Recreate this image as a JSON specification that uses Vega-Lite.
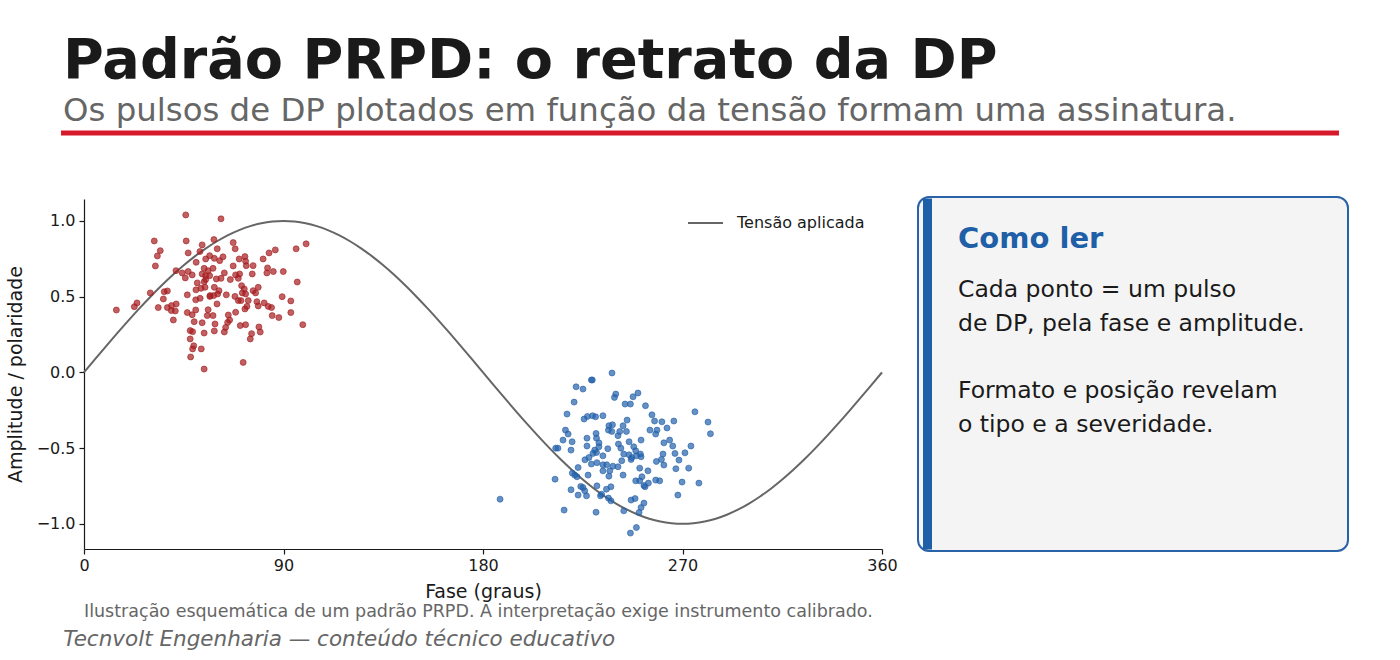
{
  "$schema": "https://vega.github.io/schema/vega-lite/v6.json",
  "padding": {"left": 6, "top": 33, "right": 0, "bottom": 0},
  "background": "white",
  "config": {
    "font": "DejaVu Sans",
    "view": {"stroke": null},
    "axis": {
      "labelFont": "DejaVu Sans", "titleFont": "DejaVu Sans",
      "labelFontSize": 16, "titleFontSize": 19, "titleFontWeight": "normal",
      "labelColor": "#1a1a1a", "titleColor": "#1a1a1a",
      "domainColor": "#1a1a1a", "tickColor": "#1a1a1a", "domainWidth": 1.2, "tickWidth": 1.2,
      "grid": false, "tickSize": 5, "labelPadding": 4
    }
  },
  "resolve": {"scale": {"color": "independent", "fill": "independent", "stroke": "independent"}, "legend": {"color": "independent"}},
  "datasets": {
    "tensao": [
      {"fase": 0, "amp": 0}, {"fase": 5, "amp": 0.0872}, {"fase": 10, "amp": 0.1736}, {"fase": 15, "amp": 0.2588},
      {"fase": 20, "amp": 0.342}, {"fase": 25, "amp": 0.4226}, {"fase": 30, "amp": 0.5}, {"fase": 35, "amp": 0.5736},
      {"fase": 40, "amp": 0.6428}, {"fase": 45, "amp": 0.7071}, {"fase": 50, "amp": 0.766}, {"fase": 55, "amp": 0.8192},
      {"fase": 60, "amp": 0.866}, {"fase": 65, "amp": 0.9063}, {"fase": 70, "amp": 0.9397}, {"fase": 75, "amp": 0.9659},
      {"fase": 80, "amp": 0.9848}, {"fase": 85, "amp": 0.9962}, {"fase": 90, "amp": 1}, {"fase": 95, "amp": 0.9962},
      {"fase": 100, "amp": 0.9848}, {"fase": 105, "amp": 0.9659}, {"fase": 110, "amp": 0.9397}, {"fase": 115, "amp": 0.9063},
      {"fase": 120, "amp": 0.866}, {"fase": 125, "amp": 0.8192}, {"fase": 130, "amp": 0.766}, {"fase": 135, "amp": 0.7071},
      {"fase": 140, "amp": 0.6428}, {"fase": 145, "amp": 0.5736}, {"fase": 150, "amp": 0.5}, {"fase": 155, "amp": 0.4226},
      {"fase": 160, "amp": 0.342}, {"fase": 165, "amp": 0.2588}, {"fase": 170, "amp": 0.1736}, {"fase": 175, "amp": 0.0872},
      {"fase": 180, "amp": 0}, {"fase": 185, "amp": -0.0872}, {"fase": 190, "amp": -0.1736}, {"fase": 195, "amp": -0.2588},
      {"fase": 200, "amp": -0.342}, {"fase": 205, "amp": -0.4226}, {"fase": 210, "amp": -0.5}, {"fase": 215, "amp": -0.5736},
      {"fase": 220, "amp": -0.6428}, {"fase": 225, "amp": -0.7071}, {"fase": 230, "amp": -0.766}, {"fase": 235, "amp": -0.8192},
      {"fase": 240, "amp": -0.866}, {"fase": 245, "amp": -0.9063}, {"fase": 250, "amp": -0.9397}, {"fase": 255, "amp": -0.9659},
      {"fase": 260, "amp": -0.9848}, {"fase": 265, "amp": -0.9962}, {"fase": 270, "amp": -1}, {"fase": 275, "amp": -0.9962},
      {"fase": 280, "amp": -0.9848}, {"fase": 285, "amp": -0.9659}, {"fase": 290, "amp": -0.9397}, {"fase": 295, "amp": -0.9063},
      {"fase": 300, "amp": -0.866}, {"fase": 305, "amp": -0.8192}, {"fase": 310, "amp": -0.766}, {"fase": 315, "amp": -0.7071},
      {"fase": 320, "amp": -0.6428}, {"fase": 325, "amp": -0.5736}, {"fase": 330, "amp": -0.5}, {"fase": 335, "amp": -0.4226},
      {"fase": 340, "amp": -0.342}, {"fase": 345, "amp": -0.2588}, {"fase": 350, "amp": -0.1736}, {"fase": 355, "amp": -0.0872},
      {"fase": 360, "amp": 0}
    ],
    "pulsos": [
      {"fase": 45.9, "amp": 1.04, "pol": "pos"}, {"fase": 31.7, "amp": 0.868, "pol": "pos"}, {"fase": 46.1, "amp": 0.868, "pol": "pos"},
      {"fase": 34.4, "amp": 0.804, "pol": "pos"}, {"fase": 33.1, "amp": 0.769, "pol": "pos"}, {"fase": 47.0, "amp": 0.789, "pol": "pos"},
      {"fase": 53.3, "amp": 0.842, "pol": "pos"}, {"fase": 52.3, "amp": 0.798, "pol": "pos"}, {"fase": 54.9, "amp": 0.749, "pol": "pos"},
      {"fase": 50.6, "amp": 0.727, "pol": "pos"}, {"fase": 32.2, "amp": 0.703, "pol": "pos"}, {"fase": 54.2, "amp": 0.687, "pol": "pos"},
      {"fase": 41.5, "amp": 0.672, "pol": "pos"}, {"fase": 44.3, "amp": 0.657, "pol": "pos"}, {"fase": 47.0, "amp": 0.666, "pol": "pos"},
      {"fase": 48.8, "amp": 0.644, "pol": "pos"}, {"fase": 45.7, "amp": 0.624, "pol": "pos"}, {"fase": 53.3, "amp": 0.65, "pol": "pos"},
      {"fase": 54.9, "amp": 0.639, "pol": "pos"}, {"fase": 51.1, "amp": 0.591, "pol": "pos"}, {"fase": 54.2, "amp": 0.599, "pol": "pos"},
      {"fase": 52.8, "amp": 0.555, "pol": "pos"}, {"fase": 54.6, "amp": 0.562, "pol": "pos"}, {"fase": 50.5, "amp": 0.545, "pol": "pos"},
      {"fase": 29.9, "amp": 0.525, "pol": "pos"}, {"fase": 36.2, "amp": 0.533, "pol": "pos"}, {"fase": 37.6, "amp": 0.538, "pol": "pos"},
      {"fase": 46.6, "amp": 0.512, "pol": "pos"}, {"fase": 35.8, "amp": 0.485, "pol": "pos"}, {"fase": 50.4, "amp": 0.479, "pol": "pos"},
      {"fase": 52.4, "amp": 0.489, "pol": "pos"}, {"fase": 23.9, "amp": 0.459, "pol": "pos"}, {"fase": 22.7, "amp": 0.434, "pol": "pos"},
      {"fase": 14.6, "amp": 0.412, "pol": "pos"}, {"fase": 33.5, "amp": 0.428, "pol": "pos"}, {"fase": 37.6, "amp": 0.428, "pol": "pos"},
      {"fase": 39.5, "amp": 0.441, "pol": "pos"}, {"fase": 41.6, "amp": 0.452, "pol": "pos"}, {"fase": 39.4, "amp": 0.408, "pol": "pos"},
      {"fase": 41.2, "amp": 0.406, "pol": "pos"}, {"fase": 46.6, "amp": 0.395, "pol": "pos"}, {"fase": 48.8, "amp": 0.381, "pol": "pos"},
      {"fase": 50.4, "amp": 0.412, "pol": "pos"}, {"fase": 56.0, "amp": 0.414, "pol": "pos"}, {"fase": 55.6, "amp": 0.375, "pol": "pos"},
      {"fase": 40.3, "amp": 0.346, "pol": "pos"}, {"fase": 49.7, "amp": 0.335, "pol": "pos"}, {"fase": 53.3, "amp": 0.328, "pol": "pos"},
      {"fase": 47.9, "amp": 0.276, "pol": "pos"}, {"fase": 49.0, "amp": 0.269, "pol": "pos"}, {"fase": 54.2, "amp": 0.26, "pol": "pos"},
      {"fase": 47.9, "amp": 0.221, "pol": "pos"}, {"fase": 49.5, "amp": 0.176, "pol": "pos"}, {"fase": 49.0, "amp": 0.155, "pol": "pos"},
      {"fase": 52.9, "amp": 0.155, "pol": "pos"}, {"fase": 48.1, "amp": 0.102, "pol": "pos"}, {"fase": 54.2, "amp": 0.022, "pol": "pos"},
      {"fase": 56.8, "amp": 0.502, "pol": "pos"}, {"fase": 61.8, "amp": 1.014, "pol": "pos"}, {"fase": 58.6, "amp": 0.877, "pol": "pos"},
      {"fase": 67.3, "amp": 0.857, "pol": "pos"}, {"fase": 68.2, "amp": 0.816, "pol": "pos"}, {"fase": 60.1, "amp": 0.816, "pol": "pos"},
      {"fase": 56.7, "amp": 0.771, "pol": "pos"}, {"fase": 58.8, "amp": 0.753, "pol": "pos"}, {"fase": 61.2, "amp": 0.738, "pol": "pos"},
      {"fase": 62.7, "amp": 0.763, "pol": "pos"}, {"fase": 70.0, "amp": 0.749, "pol": "pos"}, {"fase": 72.6, "amp": 0.765, "pol": "pos"},
      {"fase": 72.9, "amp": 0.734, "pol": "pos"}, {"fase": 73.2, "amp": 0.705, "pol": "pos"}, {"fase": 76.3, "amp": 0.705, "pol": "pos"},
      {"fase": 67.3, "amp": 0.703, "pol": "pos"}, {"fase": 80.8, "amp": 0.749, "pol": "pos"}, {"fase": 83.5, "amp": 0.789, "pol": "pos"},
      {"fase": 86.3, "amp": 0.809, "pol": "pos"}, {"fase": 95.7, "amp": 0.816, "pol": "pos"}, {"fase": 100.2, "amp": 0.849, "pol": "pos"},
      {"fase": 82.8, "amp": 0.69, "pol": "pos"}, {"fase": 82.5, "amp": 0.657, "pol": "pos"}, {"fase": 85.4, "amp": 0.666, "pol": "pos"},
      {"fase": 89.9, "amp": 0.666, "pol": "pos"}, {"fase": 75.9, "amp": 0.65, "pol": "pos"}, {"fase": 70.2, "amp": 0.65, "pol": "pos"},
      {"fase": 68.4, "amp": 0.644, "pol": "pos"}, {"fase": 69.6, "amp": 0.621, "pol": "pos"}, {"fase": 63.3, "amp": 0.657, "pol": "pos"},
      {"fase": 58.2, "amp": 0.687, "pol": "pos"}, {"fase": 56.0, "amp": 0.672, "pol": "pos"}, {"fase": 56.7, "amp": 0.639, "pol": "pos"},
      {"fase": 54.9, "amp": 0.613, "pol": "pos"}, {"fase": 61.8, "amp": 0.621, "pol": "pos"}, {"fase": 59.7, "amp": 0.617, "pol": "pos"},
      {"fase": 66.0, "amp": 0.613, "pol": "pos"}, {"fase": 96.2, "amp": 0.597, "pol": "pos"}, {"fase": 71.1, "amp": 0.573, "pol": "pos"},
      {"fase": 72.3, "amp": 0.551, "pol": "pos"}, {"fase": 71.4, "amp": 0.525, "pol": "pos"}, {"fase": 72.9, "amp": 0.518, "pol": "pos"},
      {"fase": 76.3, "amp": 0.54, "pol": "pos"}, {"fase": 78.6, "amp": 0.562, "pol": "pos"}, {"fase": 77.4, "amp": 0.525, "pol": "pos"},
      {"fase": 58.8, "amp": 0.562, "pol": "pos"}, {"fase": 60.9, "amp": 0.54, "pol": "pos"}, {"fase": 60.3, "amp": 0.518, "pol": "pos"},
      {"fase": 58.5, "amp": 0.507, "pol": "pos"}, {"fase": 56.9, "amp": 0.507, "pol": "pos"}, {"fase": 64.2, "amp": 0.512, "pol": "pos"},
      {"fase": 68.1, "amp": 0.502, "pol": "pos"}, {"fase": 89.4, "amp": 0.5, "pol": "pos"}, {"fase": 69.6, "amp": 0.474, "pol": "pos"},
      {"fase": 70.8, "amp": 0.474, "pol": "pos"}, {"fase": 74.1, "amp": 0.474, "pol": "pos"}, {"fase": 78.0, "amp": 0.467, "pol": "pos"},
      {"fase": 81.3, "amp": 0.459, "pol": "pos"}, {"fase": 60.0, "amp": 0.452, "pol": "pos"}, {"fase": 73.5, "amp": 0.436, "pol": "pos"},
      {"fase": 78.6, "amp": 0.439, "pol": "pos"}, {"fase": 83.1, "amp": 0.436, "pol": "pos"}, {"fase": 84.6, "amp": 0.428, "pol": "pos"},
      {"fase": 93.3, "amp": 0.472, "pol": "pos"}, {"fase": 72.6, "amp": 0.419, "pol": "pos"}, {"fase": 68.4, "amp": 0.397, "pol": "pos"},
      {"fase": 65.1, "amp": 0.379, "pol": "pos"}, {"fase": 58.2, "amp": 0.375, "pol": "pos"}, {"fase": 84.9, "amp": 0.375, "pol": "pos"},
      {"fase": 87.9, "amp": 0.362, "pol": "pos"}, {"fase": 93.3, "amp": 0.395, "pol": "pos"}, {"fase": 65.7, "amp": 0.346, "pol": "pos"},
      {"fase": 64.8, "amp": 0.33, "pol": "pos"}, {"fase": 59.1, "amp": 0.32, "pol": "pos"}, {"fase": 70.5, "amp": 0.309, "pol": "pos"},
      {"fase": 72.9, "amp": 0.315, "pol": "pos"}, {"fase": 78.9, "amp": 0.3, "pol": "pos"}, {"fase": 98.7, "amp": 0.315, "pol": "pos"},
      {"fase": 63.9, "amp": 0.297, "pol": "pos"}, {"fase": 63.3, "amp": 0.267, "pol": "pos"}, {"fase": 58.8, "amp": 0.274, "pol": "pos"},
      {"fase": 79.5, "amp": 0.267, "pol": "pos"}, {"fase": 75.6, "amp": 0.256, "pol": "pos"}, {"fase": 75.0, "amp": 0.221, "pol": "pos"},
      {"fase": 71.8, "amp": 0.066, "pol": "pos"},
      {"fase": 228.9, "amp": -0.05, "pol": "neg"}, {"fase": 229.3, "amp": -0.05, "pol": "neg"}, {"fase": 222.0, "amp": -0.095, "pol": "neg"},
      {"fase": 225.1, "amp": -0.11, "pol": "neg"}, {"fase": 221.1, "amp": -0.196, "pol": "neg"}, {"fase": 217.9, "amp": -0.275, "pol": "neg"},
      {"fase": 225.6, "amp": -0.308, "pol": "neg"}, {"fase": 227.1, "amp": -0.291, "pol": "neg"}, {"fase": 229.4, "amp": -0.286, "pol": "neg"},
      {"fase": 230.8, "amp": -0.293, "pol": "neg"}, {"fase": 234.1, "amp": -0.286, "pol": "neg"}, {"fase": 217.2, "amp": -0.381, "pol": "neg"},
      {"fase": 218.4, "amp": -0.407, "pol": "neg"}, {"fase": 216.1, "amp": -0.447, "pol": "neg"}, {"fase": 220.2, "amp": -0.458, "pol": "neg"},
      {"fase": 226.9, "amp": -0.434, "pol": "neg"}, {"fase": 231.0, "amp": -0.403, "pol": "neg"}, {"fase": 231.2, "amp": -0.434, "pol": "neg"},
      {"fase": 232.3, "amp": -0.465, "pol": "neg"}, {"fase": 232.3, "amp": -0.491, "pol": "neg"}, {"fase": 212.8, "amp": -0.5, "pol": "neg"},
      {"fase": 213.8, "amp": -0.5, "pol": "neg"}, {"fase": 219.7, "amp": -0.513, "pol": "neg"}, {"fase": 226.9, "amp": -0.486, "pol": "neg"},
      {"fase": 230.4, "amp": -0.513, "pol": "neg"}, {"fase": 229.6, "amp": -0.535, "pol": "neg"}, {"fase": 231.2, "amp": -0.529, "pol": "neg"},
      {"fase": 234.1, "amp": -0.551, "pol": "neg"}, {"fase": 227.8, "amp": -0.562, "pol": "neg"}, {"fase": 226.0, "amp": -0.577, "pol": "neg"},
      {"fase": 228.9, "amp": -0.605, "pol": "neg"}, {"fase": 231.4, "amp": -0.596, "pol": "neg"}, {"fase": 234.1, "amp": -0.61, "pol": "neg"},
      {"fase": 222.9, "amp": -0.628, "pol": "neg"}, {"fase": 234.1, "amp": -0.65, "pol": "neg"}, {"fase": 220.3, "amp": -0.665, "pol": "neg"},
      {"fase": 221.4, "amp": -0.678, "pol": "neg"}, {"fase": 222.4, "amp": -0.689, "pol": "neg"}, {"fase": 227.4, "amp": -0.678, "pol": "neg"},
      {"fase": 212.5, "amp": -0.705, "pol": "neg"}, {"fase": 224.1, "amp": -0.753, "pol": "neg"}, {"fase": 225.1, "amp": -0.76, "pol": "neg"},
      {"fase": 231.4, "amp": -0.749, "pol": "neg"}, {"fase": 219.7, "amp": -0.775, "pol": "neg"}, {"fase": 225.9, "amp": -0.782, "pol": "neg"},
      {"fase": 222.9, "amp": -0.81, "pol": "neg"}, {"fase": 226.7, "amp": -0.815, "pol": "neg"}, {"fase": 233.0, "amp": -0.815, "pol": "neg"},
      {"fase": 187.7, "amp": -0.837, "pol": "neg"}, {"fase": 216.6, "amp": -0.909, "pol": "neg"}, {"fase": 231.0, "amp": -0.923, "pol": "neg"},
      {"fase": 238.2, "amp": -0.004, "pol": "neg"}, {"fase": 239.9, "amp": -0.143, "pol": "neg"}, {"fase": 239.3, "amp": -0.165, "pol": "neg"},
      {"fase": 247.7, "amp": -0.161, "pol": "neg"}, {"fase": 249.9, "amp": -0.136, "pol": "neg"}, {"fase": 244.1, "amp": -0.209, "pol": "neg"},
      {"fase": 246.5, "amp": -0.209, "pol": "neg"}, {"fase": 253.3, "amp": -0.22, "pol": "neg"}, {"fase": 256.2, "amp": -0.28, "pol": "neg"},
      {"fase": 275.6, "amp": -0.26, "pol": "neg"}, {"fase": 245.0, "amp": -0.315, "pol": "neg"}, {"fase": 257.4, "amp": -0.321, "pol": "neg"},
      {"fase": 260.7, "amp": -0.326, "pol": "neg"}, {"fase": 266.1, "amp": -0.321, "pol": "neg"}, {"fase": 281.5, "amp": -0.328, "pol": "neg"},
      {"fase": 282.6, "amp": -0.405, "pol": "neg"}, {"fase": 238.4, "amp": -0.346, "pol": "neg"}, {"fase": 236.8, "amp": -0.352, "pol": "neg"},
      {"fase": 243.2, "amp": -0.352, "pol": "neg"}, {"fase": 263.0, "amp": -0.367, "pol": "neg"}, {"fase": 255.3, "amp": -0.381, "pol": "neg"},
      {"fase": 258.5, "amp": -0.381, "pol": "neg"}, {"fase": 257.9, "amp": -0.407, "pol": "neg"}, {"fase": 236.6, "amp": -0.381, "pol": "neg"},
      {"fase": 238.1, "amp": -0.39, "pol": "neg"}, {"fase": 241.7, "amp": -0.39, "pol": "neg"}, {"fase": 244.7, "amp": -0.39, "pol": "neg"},
      {"fase": 240.9, "amp": -0.418, "pol": "neg"}, {"fase": 251.3, "amp": -0.447, "pol": "neg"}, {"fase": 245.9, "amp": -0.458, "pol": "neg"},
      {"fase": 264.2, "amp": -0.447, "pol": "neg"}, {"fase": 261.6, "amp": -0.465, "pol": "neg"}, {"fase": 265.6, "amp": -0.486, "pol": "neg"},
      {"fase": 273.8, "amp": -0.486, "pol": "neg"}, {"fase": 241.1, "amp": -0.473, "pol": "neg"}, {"fase": 236.3, "amp": -0.504, "pol": "neg"},
      {"fase": 242.2, "amp": -0.5, "pol": "neg"}, {"fase": 248.0, "amp": -0.491, "pol": "neg"}, {"fase": 248.9, "amp": -0.518, "pol": "neg"},
      {"fase": 271.1, "amp": -0.531, "pol": "neg"}, {"fase": 266.6, "amp": -0.535, "pol": "neg"}, {"fase": 261.2, "amp": -0.539, "pol": "neg"},
      {"fase": 260.5, "amp": -0.575, "pol": "neg"}, {"fase": 268.4, "amp": -0.579, "pol": "neg"}, {"fase": 243.5, "amp": -0.539, "pol": "neg"},
      {"fase": 245.9, "amp": -0.544, "pol": "neg"}, {"fase": 249.2, "amp": -0.551, "pol": "neg"}, {"fase": 251.3, "amp": -0.557, "pol": "neg"},
      {"fase": 251.0, "amp": -0.539, "pol": "neg"}, {"fase": 246.8, "amp": -0.575, "pol": "neg"}, {"fase": 247.1, "amp": -0.562, "pol": "neg"},
      {"fase": 242.6, "amp": -0.583, "pol": "neg"}, {"fase": 258.2, "amp": -0.588, "pol": "neg"}, {"fase": 261.6, "amp": -0.612, "pol": "neg"},
      {"fase": 235.8, "amp": -0.61, "pol": "neg"}, {"fase": 238.6, "amp": -0.619, "pol": "neg"}, {"fase": 240.9, "amp": -0.623, "pol": "neg"},
      {"fase": 250.7, "amp": -0.632, "pol": "neg"}, {"fase": 267.0, "amp": -0.636, "pol": "neg"}, {"fase": 272.8, "amp": -0.632, "pol": "neg"},
      {"fase": 237.2, "amp": -0.65, "pol": "neg"}, {"fase": 254.4, "amp": -0.65, "pol": "neg"}, {"fase": 243.2, "amp": -0.678, "pol": "neg"},
      {"fase": 236.8, "amp": -0.685, "pol": "neg"}, {"fase": 251.7, "amp": -0.689, "pol": "neg"}, {"fase": 248.9, "amp": -0.716, "pol": "neg"},
      {"fase": 250.7, "amp": -0.716, "pol": "neg"}, {"fase": 257.9, "amp": -0.711, "pol": "neg"}, {"fase": 259.7, "amp": -0.716, "pol": "neg"},
      {"fase": 269.8, "amp": -0.724, "pol": "neg"}, {"fase": 277.4, "amp": -0.731, "pol": "neg"}, {"fase": 254.6, "amp": -0.731, "pol": "neg"},
      {"fase": 252.6, "amp": -0.747, "pol": "neg"}, {"fase": 253.1, "amp": -0.755, "pol": "neg"}, {"fase": 237.7, "amp": -0.755, "pol": "neg"},
      {"fase": 235.7, "amp": -0.771, "pol": "neg"}, {"fase": 233.5, "amp": -0.804, "pol": "neg"}, {"fase": 267.9, "amp": -0.81, "pol": "neg"},
      {"fase": 236.6, "amp": -0.83, "pol": "neg"}, {"fase": 237.7, "amp": -0.848, "pol": "neg"}, {"fase": 246.8, "amp": -0.843, "pol": "neg"},
      {"fase": 248.6, "amp": -0.833, "pol": "neg"}, {"fase": 252.6, "amp": -0.863, "pol": "neg"}, {"fase": 251.3, "amp": -0.892, "pol": "neg"},
      {"fase": 243.5, "amp": -0.914, "pol": "neg"}, {"fase": 250.4, "amp": -0.925, "pol": "neg"}, {"fase": 249.2, "amp": -1.024, "pol": "neg"},
      {"fase": 246.5, "amp": -1.061, "pol": "neg"}
    ],
    "caixa": [
      {"linha": "Cada ponto = um pulso", "y": 98},
      {"linha": "de DP, pela fase e amplitude.", "y": 131.5},
      {"linha": "Formato e posição revelam", "y": 199},
      {"linha": "o tipo e a severidade.", "y": 232.5}
    ]
  },
  "title": {
    "text": "Tecnvolt Engenharia — conteúdo técnico educativo",
    "orient": "bottom", "anchor": "start", "frame": "bounds",
    "fontSize": 21.5, "fontStyle": "italic", "fontWeight": "normal", "color": "#666666",
    "dx": 57, "offset": 8
  },
  "spacing": 60,
  "vconcat": [
    {
      "width": 1257, "height": 6,
      "title": {
        "text": "Padrão PRPD: o retrato da DP",
        "subtitle": "Os pulsos de DP plotados em função da tensão formam uma assinatura.",
        "anchor": "start", "frame": "group",
        "fontSize": 55.7, "fontWeight": "bold", "color": "#1a1a1a",
        "subtitleFontSize": 32.4, "subtitleColor": "#666666", "subtitleFont": "DejaVu Sans",
        "subtitlePadding": 5, "dx": -21, "offset": 1.5
      },
      "data": {"values": [{"x0": -23, "x1": 1255}]},
      "mark": {"type": "rule", "color": "#d7192c", "strokeWidth": 5},
      "encoding": {
        "x": {"field": "x0", "type": "quantitative", "scale": {"domain": [0, 1257], "nice": false, "zero": false}, "axis": null},
        "x2": {"field": "x1"},
        "y": {"datum": 0, "type": "quantitative", "scale": {"domain": [-1, 1]}, "axis": null}
      }
    },
    {
      "spacing": 19,
      "resolve": {"scale": {"color": "independent", "fill": "independent", "stroke": "independent"}, "legend": {"color": "independent"}},
      "hconcat": [
        {
          "width": 798, "height": 350,
          "title": {
            "text": "Ilustração esquemática de um padrão PRPD. A interpretação exige instrumento calibrado.",
            "orient": "bottom", "anchor": "start", "frame": "group",
            "fontSize": 17.5, "fontWeight": "normal", "color": "#666666", "offset": 2
          },
          "layer": [
            {
              "data": {"name": "tensao"},
              "mark": {"type": "line", "strokeWidth": 2, "interpolate": "monotone"},
              "encoding": {
                "x": {"field": "fase", "type": "quantitative",
                  "scale": {"domain": [0, 360], "nice": false, "zero": false},
                  "axis": {"title": "Fase (graus)", "values": [0, 90, 180, 270, 360], "labelFlush": false, "labelPadding": 3, "titlePadding": 9}},
                "y": {"field": "amp", "type": "quantitative",
                  "scale": {"domain": [-1.166, 1.145], "nice": false, "zero": false},
                  "axis": {"title": "Amplitude / polaridade", "values": [-1, -0.5, 0, 0.5, 1], "format": ".1f", "titlePadding": 11}},
                "color": {"datum": "Tensão aplicada", "type": "nominal",
                  "scale": {"range": ["#666666"]},
                  "legend": {"title": null, "orient": "none", "legendX": 603, "legendY": 5.5, "padding": 0,
                    "symbolType": "stroke", "symbolSize": 1225, "symbolStrokeWidth": 2,
                    "labelFont": "DejaVu Sans", "labelFontSize": 16, "labelColor": "#1a1a1a", "labelOffset": 13}}
              }
            },
            {
              "data": {"name": "pulsos"},
              "mark": {"type": "circle", "size": 36, "opacity": 1, "fillOpacity": 0.7, "strokeOpacity": 0.7, "strokeWidth": 0.9},
              "encoding": {
                "x": {"field": "fase", "type": "quantitative"},
                "y": {"field": "amp", "type": "quantitative"},
                "fill": {"field": "pol", "type": "nominal", "scale": {"domain": ["pos", "neg"], "range": ["#a51d1f", "#2461ab"]}, "legend": null},
                "stroke": {"field": "pol", "type": "nominal", "scale": {"domain": ["pos", "neg"], "range": ["#a51d1f", "#2461ab"]}, "legend": null}
              }
            }
          ]
        },
        {
          "width": 430, "height": 354,
          "layer": [
            {
              "data": {"values": [{"a": 0, "b": 430, "c": -2, "d": 352}]},
              "mark": {"type": "rect", "fill": "#f4f4f4", "stroke": "#2a62a8", "strokeWidth": 2, "cornerRadius": 11},
              "encoding": {
                "x": {"field": "a", "type": "quantitative", "scale": {"domain": [0, 430], "nice": false, "zero": false}, "axis": null},
                "x2": {"field": "b"},
                "y": {"field": "c", "type": "quantitative", "scale": {"domain": [0, 354], "nice": false, "zero": false, "reverse": true}, "axis": null},
                "y2": {"field": "d"}
              }
            },
            {
              "data": {"values": [{"a": 5, "b": 14, "c": -0.5, "d": 350.5}]},
              "mark": {"type": "rect", "fill": "#1f5fa8"},
              "encoding": {
                "x": {"field": "a", "type": "quantitative"},
                "x2": {"field": "b"},
                "y": {"field": "c", "type": "quantitative"},
                "y2": {"field": "d"}
              }
            },
            {
              "data": {"values": [{"t": "Como ler", "x": 40, "y": 49}]},
              "mark": {"type": "text", "align": "left", "baseline": "alphabetic", "font": "DejaVu Sans", "fontSize": 29, "fontWeight": "bold", "color": "#1f5fa8"},
              "encoding": {
                "x": {"field": "x", "type": "quantitative"},
                "y": {"field": "y", "type": "quantitative"},
                "text": {"field": "t"}
              }
            },
            {
              "data": {"name": "caixa"},
              "mark": {"type": "text", "align": "left", "baseline": "alphabetic", "font": "DejaVu Sans", "fontSize": 23.5, "color": "#1a1a1a"},
              "encoding": {
                "x": {"datum": 40, "type": "quantitative"},
                "y": {"field": "y", "type": "quantitative"},
                "text": {"field": "linha"}
              }
            }
          ]
        }
      ]
    }
  ]
}
